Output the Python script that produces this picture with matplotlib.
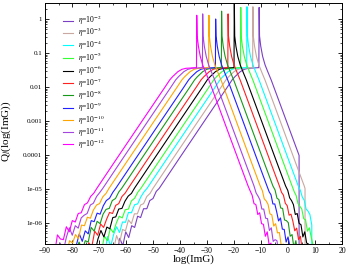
import numpy as np
import matplotlib
matplotlib.use("Agg")
from matplotlib import pyplot as plt
from matplotlib.ticker import FixedLocator, FuncFormatter, LogLocator, MultipleLocator, NullFormatter

plt.rcParams["font.family"] = ["Liberation Serif", "DejaVu Serif"]
plt.rcParams["mathtext.fontset"] = "stix"

ETA_EXP = [-2, -3, -4, -5, -6, -7, -8, -9, -10, -11, -12]
COLORS = ["#7b3fc4", "#c8a8a0", "#00ffff", "#33ff33", "#000000", "#ff2020",
          "#189818", "#2020ff", "#ffa500", "#a545e0", "#ff00ff"]

# peak position (log ImG) and spike height (log10 Q) read per curve
PEAK_X = [-10.7, -13.0, -15.2, -17.5, -19.9, -22.2, -24.6, -26.8, -29.3, -31.6, -33.8]
PEAK_LOGQ = [0.34, 0.36, 0.36, 0.34, 0.6, 0.15, 0.23, 0.0, 0.11, 0.15, 0.11]
# where the data stops on the right (None = runs off the bottom)
X_END = [4.1, 6.3, 8.8, 9.2, None, None, None, None, None, None, None]

# shape of one curve, offsets from its peak, log10 Q
LEFT_NOISY_D = [-54.0, -52.8, -51.6, -50.5, -49.4, -48.3, -47.2, -46.1,
                -45.0, -43.9, -42.8, -41.6, -40.5, -39.3, -38.1, -37.0]
LEFT_NOISY_LOGQ = [-6.98, -6.84, -6.70, -6.57, -6.44, -6.31, -6.18, -6.05,
                   -5.92, -5.79, -5.66, -5.52, -5.39, -5.25, -5.11, -4.98]
LEFT_SMOOTH_D = [-30.0, -20.0, -12.0, -10.0, -9.0, -7.0, -5.5, -4.0, -2.0, -0.1]
LEFT_SMOOTH_LOGQ = [-4.15, -2.97, -2.03, -1.79, -1.70, -1.55, -1.48, -1.45, -1.44, -1.43]
RIGHT_SMOOTH_D = [0.15, 0.6, 1.3, 2.2, 3.2, 4.5, 8.0, 12.0, 16.0, 19.0]
RIGHT_SMOOTH_LOGQ = [-0.5, -0.8, -1.1, -1.35, -1.55, -1.8, -2.55, -3.41, -4.27, -4.91]
RIGHT_NOISY_D = [19.8, 20.5, 21.2, 21.9, 22.6, 23.3, 24.0, 24.7, 25.4, 26.1, 26.8, 27.5, 28.2]
RIGHT_NOISY_LOGQ = [-5.08, -5.24, -5.39, -5.54, -5.69, -5.84, -5.99, -6.14,
                    -6.29, -6.44, -6.59, -6.74, -6.89]

# wiggles in the noisy tails, per curve
LEFT_WIGGLE = [
    [0.2, -0.15, 0.25, -0.1, 0.18, -0.12, 0.1, -0.08, 0.12, -0.05, 0.08, -0.06, 0.05, -0.03, 0.04, 0.0],
    [-0.1, 0.22, -0.08, 0.2, -0.15, 0.12, -0.05, 0.14, -0.1, 0.06, -0.07, 0.05, -0.04, 0.03, -0.02, 0.0],
    [0.15, -0.05, 0.3, -0.12, 0.1, 0.2, -0.1, 0.08, -0.06, 0.1, -0.04, 0.06, -0.05, 0.02, 0.03, 0.0],
    [0.25, 0.0, -0.12, 0.18, -0.08, 0.15, -0.1, 0.05, 0.12, -0.06, 0.05, -0.07, 0.04, -0.02, 0.02, 0.0],
    [-0.05, 0.2, -0.15, 0.1, 0.22, -0.1, 0.06, -0.12, 0.08, -0.03, 0.07, -0.05, 0.03, 0.04, -0.02, 0.0],
    [0.3, -0.1, 0.12, -0.14, 0.2, -0.05, 0.15, -0.08, 0.03, 0.1, -0.06, 0.04, -0.04, 0.03, -0.01, 0.0],
    [0.1, 0.28, -0.1, 0.05, -0.12, 0.18, -0.06, 0.1, -0.1, 0.05, 0.06, -0.05, 0.05, -0.03, 0.02, 0.0],
    [-0.12, 0.15, 0.05, 0.25, -0.1, 0.08, -0.14, 0.12, -0.04, 0.08, -0.08, 0.03, 0.05, -0.02, 0.01, 0.0],
    [0.22, -0.08, 0.18, -0.02, 0.1, -0.15, 0.12, -0.03, 0.09, -0.07, 0.04, 0.05, -0.04, 0.02, -0.02, 0.0],
    [0.05, 0.25, -0.12, 0.15, 0.3, -0.05, 0.1, -0.1, 0.07, 0.02, -0.06, 0.05, -0.03, 0.03, 0.01, 0.0],
    [0.18, -0.12, 0.35, 0.1, -0.05, 0.2, -0.08, 0.12, -0.05, 0.07, -0.04, 0.06, -0.02, 0.03, -0.01, 0.0],
]
RIGHT_WIGGLE = [
    [0.02, -0.04, 0.05, -0.03, 0.08, -0.06, 0.1, -0.05, 0.12, -0.1, 0.15, -0.08, 0.2],
    [-0.03, 0.04, -0.02, 0.07, -0.05, 0.1, -0.04, 0.13, -0.08, 0.16, -0.1, 0.2, -0.05],
    [0.03, 0.0, 0.06, -0.05, 0.04, 0.09, -0.07, 0.1, -0.05, 0.14, 0.05, -0.1, 0.18],
    [0.0, 0.05, -0.04, 0.03, 0.1, -0.03, 0.08, -0.1, 0.15, 0.02, -0.08, 0.2, 0.05],
    [0.04, -0.02, 0.05, 0.08, -0.06, 0.12, -0.02, 0.09, -0.12, 0.18, 0.0, 0.12, -0.1],
    [-0.02, 0.06, -0.03, 0.05, -0.08, 0.1, 0.04, -0.09, 0.14, -0.05, 0.2, -0.1, 0.15],
    [0.05, -0.03, 0.08, -0.02, 0.12, -0.07, 0.06, 0.15, -0.1, 0.1, -0.15, 0.22, 0.0],
    [0.0, 0.07, -0.05, 0.1, 0.02, -0.1, 0.14, -0.04, 0.1, -0.12, 0.18, 0.05, -0.1],
    [0.03, -0.05, 0.04, 0.09, -0.04, 0.08, -0.1, 0.12, 0.0, 0.16, -0.08, 0.12, 0.2],
    [-0.04, 0.03, 0.07, -0.05, 0.1, -0.02, 0.12, -0.08, 0.15, -0.1, 0.1, 0.22, -0.05],
    [0.02, 0.06, -0.04, 0.08, -0.06, 0.14, -0.03, 0.1, -0.1, 0.18, -0.05, 0.15, -0.12],
]

YTICK_LABELS = {0: "1", -1: "0.1", -2: "0.01", -3: "0.001", -4: "0.0001",
                -5: "1e-05", -6: "1e-06"}


def curve(i):
    d = np.concatenate([LEFT_NOISY_D, LEFT_SMOOTH_D, [0.0], RIGHT_SMOOTH_D, RIGHT_NOISY_D])
    logq = np.concatenate([
        np.array(LEFT_NOISY_LOGQ) + LEFT_WIGGLE[i],
        LEFT_SMOOTH_LOGQ,
        [PEAK_LOGQ[i]],
        RIGHT_SMOOTH_LOGQ,
        np.array(RIGHT_NOISY_LOGQ) + RIGHT_WIGGLE[i],
    ])
    x = PEAK_X[i] + d
    if X_END[i] is not None:
        end_val = np.interp(X_END[i], x, logq)
        keep = x < X_END[i]
        x = np.append(x[keep], [X_END[i], X_END[i]])
        logq = np.append(logq[keep], [end_val, -9.0])
    return x, 10.0 ** logq


fig = plt.figure(figsize=(3.49, 2.70), dpi=100)
ax = fig.add_axes([0.129, 0.096, 0.851, 0.893])

for i, e in enumerate(ETA_EXP):
    x, q = curve(i)
    ax.plot(x, q, color=COLORS[i], lw=0.8, label=r"$\eta$=10$^{%d}$" % e)

ax.set_yscale("log")
ax.set_xlim(-90, 20)
ax.set_ylim(2.4e-7, 2.96)

ax.xaxis.set_major_locator(MultipleLocator(10))
ax.xaxis.set_minor_locator(MultipleLocator(5))
ax.yaxis.set_major_locator(FixedLocator([10.0 ** k for k in range(-6, 1)]))
ax.yaxis.set_minor_locator(LogLocator(base=10, subs=np.arange(2, 10), numticks=20))
ax.yaxis.set_minor_formatter(NullFormatter())
ax.yaxis.set_major_formatter(FuncFormatter(
    lambda v, pos: YTICK_LABELS.get(int(round(np.log10(v))), "")))

ax.tick_params(which="both", direction="in", top=True, right=True, pad=2)
ax.tick_params(axis="x", labelsize=5.5)
ax.tick_params(axis="y", labelsize=5)
ax.tick_params(which="major", length=3, width=0.6)
ax.tick_params(which="minor", length=1.5, width=0.5)
for s in ax.spines.values():
    s.set_linewidth(0.7)

ax.set_xlabel("log(ImG)", fontsize=8, labelpad=0)
ax.set_ylabel(r"Q$_l$(log(ImG))", fontsize=8, labelpad=3)
ax.yaxis.set_label_coords(-0.108, 0.47)

ax.legend(loc="upper left", bbox_to_anchor=(0.06, 0.955), frameon=False,
          fontsize=5.5, handlelength=1.3, handletextpad=0.7, labelspacing=-0.15,
          borderpad=0, borderaxespad=0)

fig.savefig("out.png", dpi=100)
